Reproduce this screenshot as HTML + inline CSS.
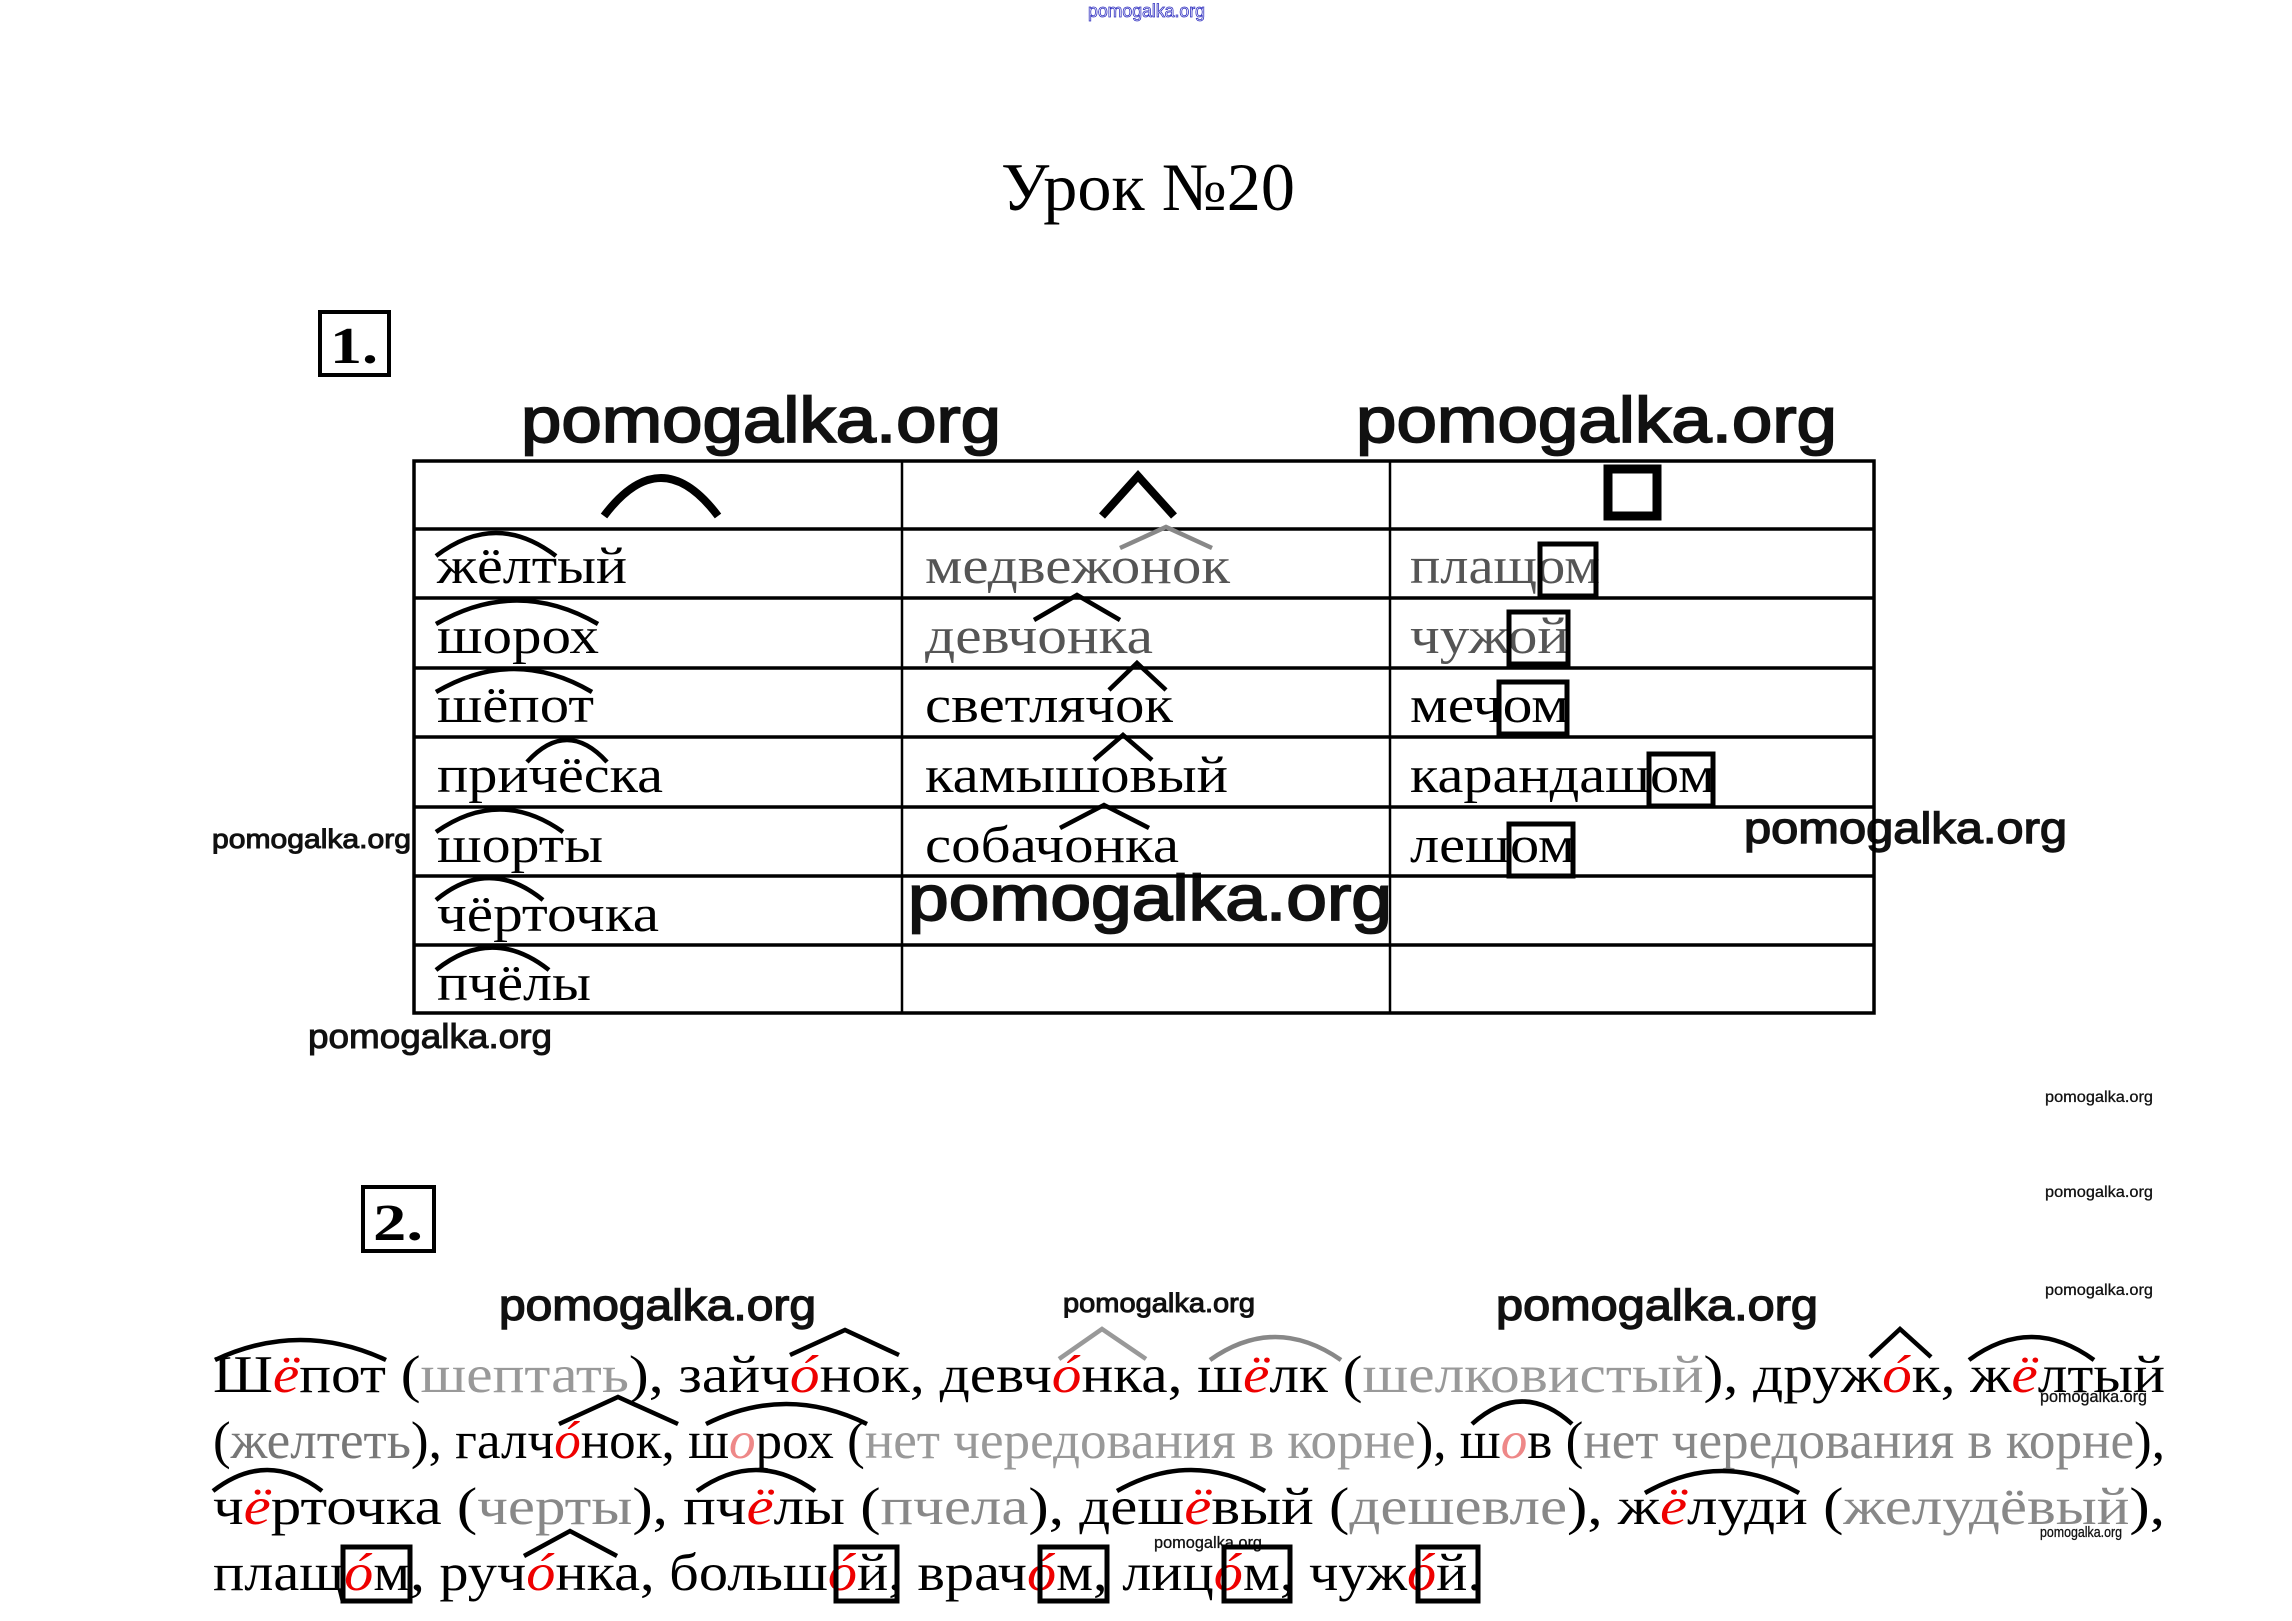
<!DOCTYPE html>
<html><head><meta charset="utf-8"><style>html,body{margin:0;padding:0;background:#fff}svg{display:block}</style></head>
<body>
<svg width="2292" height="1621" viewBox="0 0 2292 1621" xmlns="http://www.w3.org/2000/svg">
<rect width="2292" height="1621" fill="#fff"/>
<text x="1088" y="17" font-family="Liberation Sans, sans-serif" font-size="18" fill="#fff" stroke="#3030c0" stroke-width="0.8" textLength="117" lengthAdjust="spacingAndGlyphs">pomogalka.org</text>
<text x="1001" y="210" font-family="Liberation Serif, serif" font-size="68" textLength="294" lengthAdjust="spacingAndGlyphs">Урок №20</text>
<rect x="320" y="312" width="69" height="63" fill="none" stroke="#000" stroke-width="4"/>
<text x="330" y="363" font-family="Liberation Serif, serif" font-size="52" font-weight="bold" textLength="48" lengthAdjust="spacingAndGlyphs">1.</text>

<g font-family="Liberation Sans, sans-serif" fill="#111" stroke="#111" stroke-width="1">
<text x="521" y="442" font-size="64" stroke-width="1.8" textLength="480" lengthAdjust="spacingAndGlyphs">pomogalka.org</text>
<text x="1356" y="442" font-size="64" stroke-width="1.8" textLength="481" lengthAdjust="spacingAndGlyphs">pomogalka.org</text>
<text x="212" y="848" font-size="27" textLength="199" lengthAdjust="spacingAndGlyphs">pomogalka.org</text>
<text x="308" y="1048" font-size="34" textLength="244" lengthAdjust="spacingAndGlyphs">pomogalka.org</text>
<text x="1744" y="843" font-size="44" stroke-width="1.4" textLength="323" lengthAdjust="spacingAndGlyphs">pomogalka.org</text>
<text x="908" y="920" font-size="64" stroke-width="1.8" textLength="484" lengthAdjust="spacingAndGlyphs">pomogalka.org</text>
<text x="2045" y="1102" font-size="16" stroke-width="0.3" textLength="108" lengthAdjust="spacingAndGlyphs">pomogalka.org</text>
<text x="2045" y="1197" font-size="16" stroke-width="0.3" textLength="108" lengthAdjust="spacingAndGlyphs">pomogalka.org</text>
<text x="2045" y="1295" font-size="16" stroke-width="0.3" textLength="108" lengthAdjust="spacingAndGlyphs">pomogalka.org</text>
<text x="499" y="1320" font-size="44" stroke-width="1.4" textLength="317" lengthAdjust="spacingAndGlyphs">pomogalka.org</text>
<text x="1063" y="1312" font-size="27" textLength="192" lengthAdjust="spacingAndGlyphs">pomogalka.org</text>
<text x="1496" y="1320" font-size="44" stroke-width="1.4" textLength="322" lengthAdjust="spacingAndGlyphs">pomogalka.org</text>
<text x="2040" y="1402" font-size="17" stroke-width="0.3" textLength="107" lengthAdjust="spacingAndGlyphs">pomogalka.org</text>
<text x="1154" y="1548" font-size="17" stroke-width="0.3" textLength="108" lengthAdjust="spacingAndGlyphs">pomogalka.org</text>
<text x="2040" y="1537" font-size="15" stroke-width="0.3" textLength="82" lengthAdjust="spacingAndGlyphs">pomogalka.org</text>
</g>

<g stroke="#000" stroke-width="3.5" fill="none">
<rect x="414" y="461" width="1460" height="552"/>
<line x1="902" y1="461" x2="902" y2="1013" stroke-width="2.5"/>
<line x1="1390" y1="461" x2="1390" y2="1013" stroke-width="2.5"/>
<line x1="414" y1="529" x2="1874" y2="529"/>
<line x1="414" y1="598" x2="1874" y2="598"/>
<line x1="414" y1="668" x2="1874" y2="668"/>
<line x1="414" y1="737" x2="1874" y2="737"/>
<line x1="414" y1="807" x2="1874" y2="807"/>
<line x1="414" y1="876" x2="1874" y2="876"/>
<line x1="414" y1="945" x2="1874" y2="945"/>
</g>
<path d="M604 516 Q661 440 718 516" fill="none" stroke="#000" stroke-width="8"/>
<path d="M1102 516 L1138 476 L1174 516" fill="none" stroke="#000" stroke-width="8"/>
<rect x="1608" y="469" width="49" height="47" fill="none" stroke="#000" stroke-width="9"/>

<g font-family="Liberation Serif, serif" font-size="52" fill="#000">
<text x="437" y="583" textLength="190" lengthAdjust="spacingAndGlyphs">жёлтый</text>
<text x="437" y="653" textLength="162" lengthAdjust="spacingAndGlyphs">шорох</text>
<text x="437" y="722" textLength="157" lengthAdjust="spacingAndGlyphs">шёпот</text>
<text x="437" y="792" textLength="226" lengthAdjust="spacingAndGlyphs">причёска</text>
<text x="437" y="862" textLength="166" lengthAdjust="spacingAndGlyphs">шорты</text>
<text x="437" y="931" textLength="222" lengthAdjust="spacingAndGlyphs">чёрточка</text>
<text x="437" y="1000" textLength="154" lengthAdjust="spacingAndGlyphs">пчёлы</text>
<text x="925" y="583" textLength="305" lengthAdjust="spacingAndGlyphs" fill="#555">медвежонок</text>
<text x="925" y="653" textLength="228" lengthAdjust="spacingAndGlyphs" fill="#555">девчонка</text>
<text x="925" y="722" textLength="248" lengthAdjust="spacingAndGlyphs">светлячок</text>
<text x="925" y="792" textLength="303" lengthAdjust="spacingAndGlyphs">камышовый</text>
<text x="925" y="862" textLength="254" lengthAdjust="spacingAndGlyphs">собачонка</text>
<text x="1410" y="583" textLength="190" lengthAdjust="spacingAndGlyphs" fill="#555">плащом</text>
<text x="1410" y="653" textLength="159" lengthAdjust="spacingAndGlyphs" fill="#555">чужой</text>
<text x="1410" y="722" textLength="159" lengthAdjust="spacingAndGlyphs">мечом</text>
<text x="1410" y="792" textLength="305" lengthAdjust="spacingAndGlyphs">карандашом</text>
<text x="1410" y="862" textLength="165" lengthAdjust="spacingAndGlyphs">лешом</text>
</g>
<g fill="none" stroke="#000" stroke-width="4.5">
<path d="M436 556 Q496 510 556 556"/>
<path d="M436 624 Q517 577 598 624"/>
<path d="M436 692 Q514 646 592 692"/>
<path d="M527 762 Q567 718 607 762"/>
<path d="M436 832 Q500 787 563 832"/>
<path d="M436 900 Q489 856 543 900"/>
<path d="M436 970 Q492 925 549 970"/>
<path d="M1120 548 L1166 527 L1212 548" stroke="#888"/>
<path d="M1034 620 L1077 595 L1120 620"/>
<path d="M1109 690 L1137 663 L1166 690"/>
<path d="M1094 760 L1123 735 L1152 760"/>
<path d="M1060 828 L1104 805 L1149 828"/>
</g>
<g fill="none" stroke="#000" stroke-width="5">
<rect x="1540" y="544" width="56" height="52"/>
<rect x="1509" y="612" width="59" height="52"/>
<rect x="1499" y="682" width="68" height="52"/>
<rect x="1649" y="754" width="64" height="52"/>
<rect x="1509" y="824" width="64" height="52"/>
</g>

<rect x="363" y="1187" width="71" height="64" fill="none" stroke="#000" stroke-width="4"/>
<text x="373" y="1240" font-family="Liberation Serif, serif" font-size="52" font-weight="bold" textLength="50" lengthAdjust="spacingAndGlyphs">2.</text>

<g font-family="Liberation Serif, serif" font-size="53" fill="#000">
<text x="213" y="1392" textLength="1952" lengthAdjust="spacingAndGlyphs">Ш<tspan fill="#e00" font-style="italic">ё</tspan>пот (<tspan fill="#999">шептать</tspan>), зайч<tspan fill="#e00" font-style="italic">ó</tspan>нок, девч<tspan fill="#e00" font-style="italic">ó</tspan>нка, ш<tspan fill="#e00" font-style="italic">ё</tspan>лк (<tspan fill="#999">шелковистый</tspan>), друж<tspan fill="#e00" font-style="italic">ó</tspan>к, ж<tspan fill="#e00" font-style="italic">ё</tspan>лтый</text>
<text x="213" y="1458" textLength="1952" lengthAdjust="spacingAndGlyphs">(<tspan fill="#777">желтеть</tspan>), галч<tspan fill="#e00" font-style="italic">ó</tspan>нок, ш<tspan fill="#e88" font-style="italic">о</tspan>рох (<tspan fill="#999">нет чередования в корне</tspan>), ш<tspan fill="#e88" font-style="italic">о</tspan>в (<tspan fill="#888">нет чередования в корне</tspan>),</text>
<text x="213" y="1524" textLength="1952" lengthAdjust="spacingAndGlyphs">ч<tspan fill="#e00" font-style="italic">ё</tspan>рточка  (<tspan fill="#888">черты</tspan>),  пч<tspan fill="#e00" font-style="italic">ё</tspan>лы  (<tspan fill="#888">пчела</tspan>),  деш<tspan fill="#e00" font-style="italic">ё</tspan>вый  (<tspan fill="#888">дешевле</tspan>),  ж<tspan fill="#e00" font-style="italic">ё</tspan>луди  (<tspan fill="#888">желудёвый</tspan>),</text>
<text x="213" y="1590" textLength="1269" lengthAdjust="spacingAndGlyphs">плащ<tspan fill="#e00" font-style="italic">ó</tspan>м, руч<tspan fill="#e00" font-style="italic">ó</tspan>нка, больш<tspan fill="#e00" font-style="italic">ó</tspan>й, врач<tspan fill="#e00" font-style="italic">ó</tspan>м, лиц<tspan fill="#e00" font-style="italic">ó</tspan>м, чуж<tspan fill="#e00" font-style="italic">ó</tspan>й.</text>
</g>
<g fill="none" stroke="#000" stroke-width="4.5">
<path d="M215 1360 Q300 1320 386 1360"/>
<path d="M790 1355 L845 1330 L899 1355"/>
<path d="M1059 1359 L1102 1329 L1146 1359" stroke="#999"/>
<path d="M1210 1360 Q1275 1314 1341 1360" stroke="#888"/>
<path d="M1870 1357 L1900 1329 L1931 1357"/>
<path d="M1969 1360 Q2031 1314 2094 1360"/>
<path d="M559 1424 L618 1397 L678 1424"/>
<path d="M706 1424 Q786 1384 867 1424"/>
<path d="M1472 1424 Q1522 1379 1572 1424"/>
<path d="M213 1491 Q267 1449 322 1491"/>
<path d="M697 1491 Q756 1449 815 1491"/>
<path d="M1117 1491 Q1191 1449 1265 1491"/>
<path d="M1645 1493 Q1722 1449 1799 1493"/>
<path d="M524 1556 L570 1531 L617 1556"/>
</g>
<g fill="none" stroke="#000" stroke-width="5">
<rect x="343" y="1547" width="67" height="54"/>
<rect x="836" y="1547" width="61" height="54"/>
<rect x="1040" y="1547" width="67" height="54"/>
<rect x="1224" y="1547" width="66" height="54"/>
<rect x="1418" y="1547" width="60" height="54"/>
</g>
</svg>
</body></html>
